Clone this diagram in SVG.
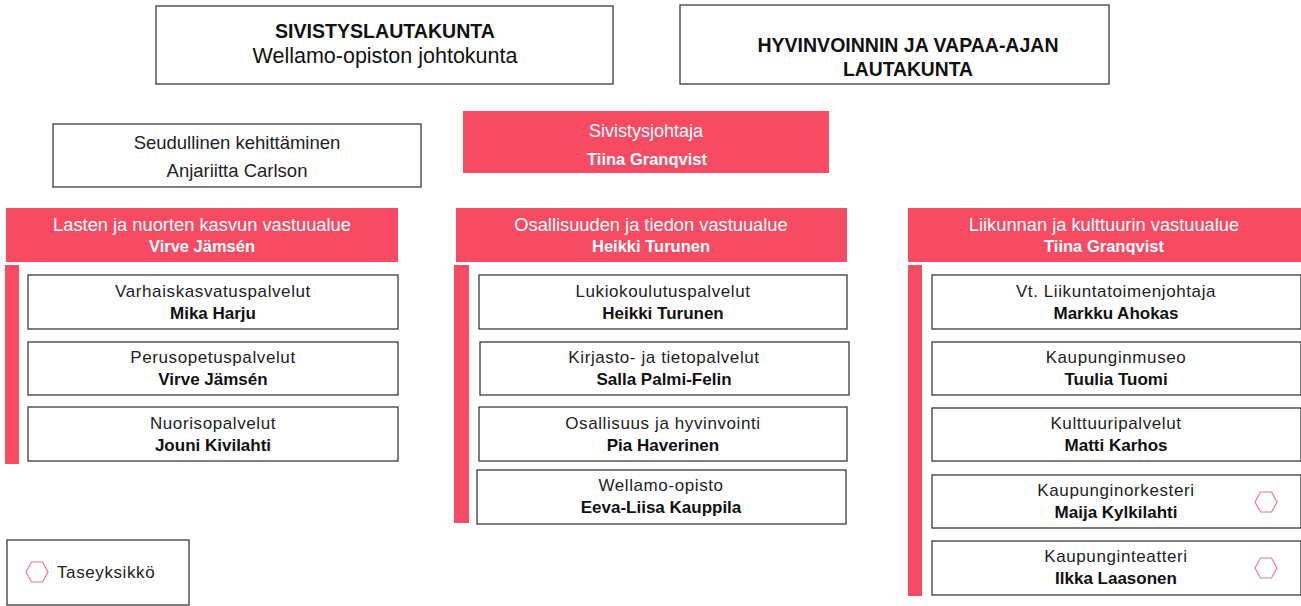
<svg xmlns="http://www.w3.org/2000/svg" width="1301" height="606" viewBox="0 0 1301 606">
<style>
.bx{fill:#fff;stroke:#3a3a3a;stroke-width:1.3}
.pk{fill:#F74A63}
.n{font-family:"Liberation Sans",sans-serif;text-anchor:middle}
.h1{font-size:18.3px}
.h2{font-size:16.5px;font-weight:bold}
.t{font-family:"Liberation Sans",sans-serif;text-anchor:middle;font-size:17px;letter-spacing:0.6px;fill:#222}
.tb{font-family:"Liberation Sans",sans-serif;text-anchor:middle;font-size:17px;font-weight:bold;fill:#111}
.hx{fill:none;stroke:#E87A8A;stroke-width:1.2}
.w{fill:#fff}
</style>
<defs>
<polygon id="hex" class="hx" points="-11,0 -5.5,-10 5.5,-10 11,0 5.5,10 -5.5,10"/>
</defs>

<g id="sivistyslautakunta">
<rect class="bx" x="156" y="6" width="457" height="78"/>
<text class="n" x="385" y="38" font-size="20" font-weight="bold" fill="#111" textLength="220" lengthAdjust="spacingAndGlyphs">SIVISTYSLAUTAKUNTA</text>
<text class="n" x="385" y="63" font-size="21.5" fill="#111">Wellamo-opiston johtokunta</text>
</g>

<g id="hyvinvointilautakunta">
<rect class="bx" x="680" y="5" width="429" height="79"/>
<text class="n" x="908" y="52" font-size="20" font-weight="bold" fill="#111" textLength="301" lengthAdjust="spacingAndGlyphs">HYVINVOINNIN JA VAPAA-AJAN</text>
<text class="n" x="908" y="76" font-size="20" font-weight="bold" fill="#111" textLength="130" lengthAdjust="spacingAndGlyphs">LAUTAKUNTA</text>
</g>

<g id="seudullinen">
<rect class="bx" x="53" y="124" width="368" height="63"/>
<text class="n" x="237" y="149" font-size="18.5" fill="#222">Seudullinen kehittäminen</text>
<text class="n" x="237" y="177" font-size="18.5" fill="#222">Anjariitta Carlson</text>
</g>

<g id="sivistysjohtaja">
<rect class="pk" x="463" y="111" width="366" height="62"/>
<text class="n w" x="646" y="137" font-size="18">Sivistysjohtaja</text>
<text class="n w h2" x="647" y="165">Tiina Granqvist</text>
</g>

<g id="lasten-vastuualue">
<rect class="pk" x="6" y="208" width="392" height="54"/>
<text class="n w h1" x="202" y="231">Lasten ja nuorten kasvun vastuualue</text>
<text class="n w h2" x="202" y="252">Virve Jämsén</text>
<rect class="pk" x="5" y="265" width="14" height="199"/>
</g>

<g id="osallisuus-vastuualue">
<rect class="pk" x="456" y="208" width="391" height="54"/>
<text class="n w h1" x="651" y="231">Osallisuuden ja tiedon vastuualue</text>
<text class="n w h2" x="651" y="252">Heikki Turunen</text>
<rect class="pk" x="454" y="265" width="15" height="258"/>
</g>

<g id="liikunta-vastuualue">
<rect class="pk" x="908" y="208" width="393" height="54"/>
<text class="n w h1" x="1104" y="231">Liikunnan ja kulttuurin vastuualue</text>
<text class="n w h2" x="1104" y="252">Tiina Granqvist</text>
<rect class="pk" x="908" y="265" width="14" height="331"/>
</g>

<g id="varhaiskasvatus">
<rect class="bx" x="28" y="275" width="370" height="54"/>
<text class="t" x="213" y="297">Varhaiskasvatuspalvelut</text>
<text class="tb" x="213" y="319">Mika Harju</text>
</g>
<g id="perusopetus">
<rect class="bx" x="28" y="342" width="370" height="53"/>
<text class="t" x="213" y="363">Perusopetuspalvelut</text>
<text class="tb" x="213" y="385">Virve Jämsén</text>
</g>
<g id="nuoriso">
<rect class="bx" x="28" y="407" width="370" height="54"/>
<text class="t" x="213" y="429">Nuorisopalvelut</text>
<text class="tb" x="213" y="451">Jouni Kivilahti</text>
</g>

<g id="lukio">
<rect class="bx" x="479" y="275" width="368" height="54"/>
<text class="t" x="663" y="297">Lukiokoulutuspalvelut</text>
<text class="tb" x="663" y="319">Heikki Turunen</text>
</g>
<g id="kirjasto">
<rect class="bx" x="480" y="342" width="369" height="53"/>
<text class="t" x="664" y="363">Kirjasto- ja tietopalvelut</text>
<text class="tb" x="664" y="385">Salla Palmi-Felin</text>
</g>
<g id="osallisuus">
<rect class="bx" x="479" y="407" width="368" height="54"/>
<text class="t" x="663" y="429">Osallisuus ja hyvinvointi</text>
<text class="tb" x="663" y="451">Pia Haverinen</text>
</g>
<g id="wellamo">
<rect class="bx" x="477" y="470" width="369" height="54"/>
<text class="t" x="661" y="491">Wellamo-opisto</text>
<text class="tb" x="661" y="513">Eeva-Liisa Kauppila</text>
</g>

<g id="liikuntatoimi">
<rect class="bx" x="932" y="275" width="369" height="54"/>
<text class="t" x="1116" y="297">Vt. Liikuntatoimenjohtaja</text>
<text class="tb" x="1116" y="319">Markku Ahokas</text>
</g>
<g id="museo">
<rect class="bx" x="932" y="342" width="369" height="53"/>
<text class="t" x="1116" y="363">Kaupunginmuseo</text>
<text class="tb" x="1116" y="385">Tuulia Tuomi</text>
</g>
<g id="kulttuuri">
<rect class="bx" x="932" y="408" width="369" height="53"/>
<text class="t" x="1116" y="429">Kulttuuripalvelut</text>
<text class="tb" x="1116" y="451">Matti Karhos</text>
</g>
<g id="orkesteri">
<rect class="bx" x="932" y="475" width="369" height="53"/>
<text class="t" x="1116" y="496">Kaupunginorkesteri</text>
<text class="tb" x="1116" y="518">Maija Kylkilahti</text>
<use href="#hex" x="1266" y="502"/>
</g>
<g id="teatteri">
<rect class="bx" x="932" y="541" width="369" height="54"/>
<text class="t" x="1116" y="562">Kaupunginteatteri</text>
<text class="tb" x="1116" y="584">Ilkka Laasonen</text>
<use href="#hex" x="1266" y="568"/>
</g>

<g id="legend">
<rect class="bx" x="7" y="540" width="182" height="65"/>
<use href="#hex" x="37" y="572"/>
<text font-family="Liberation Sans, sans-serif" font-size="17" letter-spacing="0.6" fill="#222" x="57" y="578">Taseyksikkö</text>
</g>

<g id="connectors"></g>
</svg>
